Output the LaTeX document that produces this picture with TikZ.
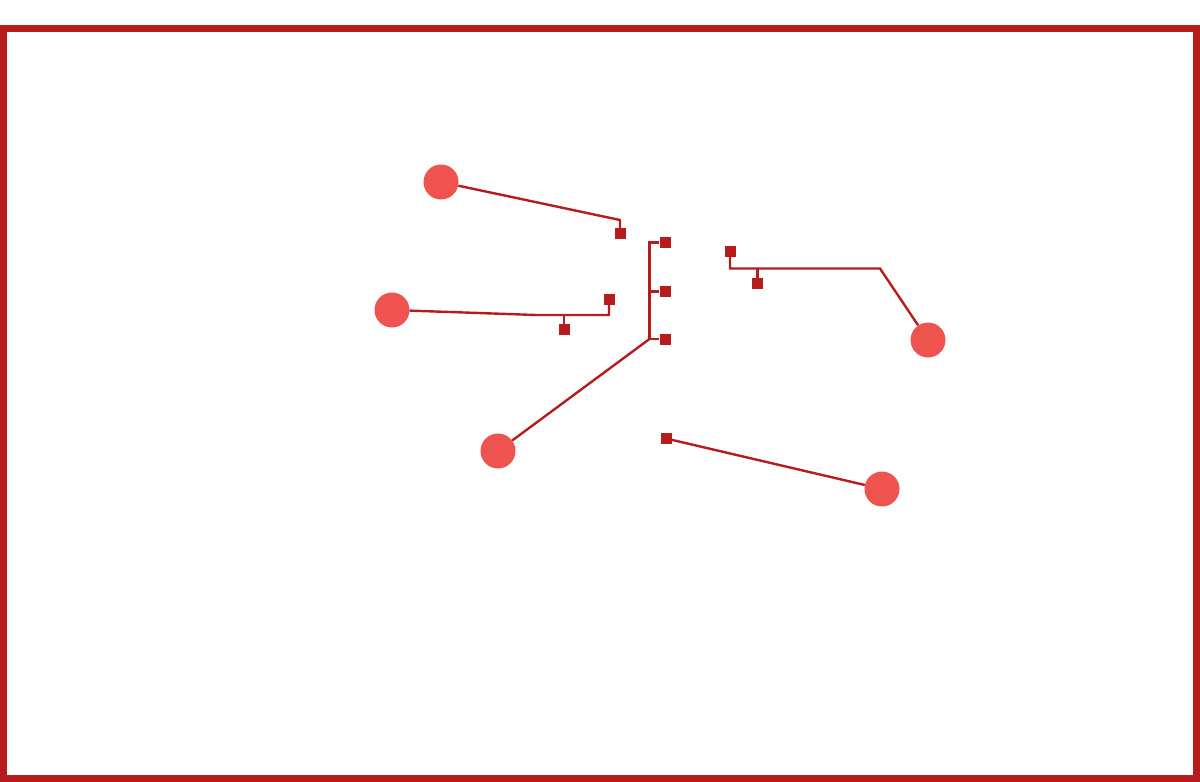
\documentclass[tikz,border=0pt]{standalone}
\definecolor{darkred}{RGB}{183,28,28}
\definecolor{dotred}{RGB}{239,83,80}
\tikzset{
  hub/.style={circle,fill=dotred,minimum size=35pt,inner sep=0pt},
  sq/.style={rectangle,fill=darkred,minimum size=11pt,inner sep=0pt},
  link/.style={draw=darkred,line width=2.4pt,line join=miter},
  frame/.style={draw=darkred,line width=7pt}
}
\begin{document}
\begin{tikzpicture}[x=1pt,y=-1pt]
\useasboundingbox (0,0) rectangle (1200,782);
\draw[frame] (3.5,28) rectangle (1196,778.5);
% circles
\node[hub] (c1) at (441,182) {};
\node[hub] (c2) at (392,310) {};
\node[hub] (c3) at (498,451) {};
\node[hub] (c4) at (928,340) {};
\node[hub] (c5) at (882,489) {};
% squares
\node[sq] (s1) at (620,233.5) {};
\node[sq] (s2) at (665,242.5) {};
\node[sq] (s3) at (665,291.5) {};
\node[sq] (s4) at (665,339) {};
\node[sq] (s5) at (609,299.5) {};
\node[sq] (s6) at (564,329.5) {};
\node[sq] (s7) at (730,251) {};
\node[sq] (s8) at (757.5,283.5) {};
\node[sq] (s9) at (666,438.5) {};
% junctions
\coordinate (j1) at (620,220);
\coordinate (j2) at (536,315);
\coordinate (j2b) at (564,315);
\coordinate (j2c) at (609,315);
\coordinate (j3t) at (649.5,242.5);
\coordinate (j3m) at (649.5,291.5);
\coordinate (j3b) at (649.5,339);
\coordinate (j4) at (730,268.5);
\coordinate (j4b) at (757.5,268.5);
\coordinate (j4c) at (880,268.5);
% connectors
\begin{scope}[on background layer/.style={}]
\draw[link] (c1) -- (j1) -- (s1);
\draw[link] (c2) -- (j2) -- (j2c) -- (s5);
\draw[link] (j2b) -- (s6);
\draw[link] (s2) -- (j3t) -- (j3b) -- (s4);
\draw[link] (j3m) -- (s3);
\draw[link] (c3) -- (j3b);
\draw[link] (s7) -- (j4) -- (j4c) -- (c4);
\draw[link] (j4b) -- (s8);
\draw[link] (s9) -- (c5);
\end{scope}
\end{tikzpicture}
\end{document}
